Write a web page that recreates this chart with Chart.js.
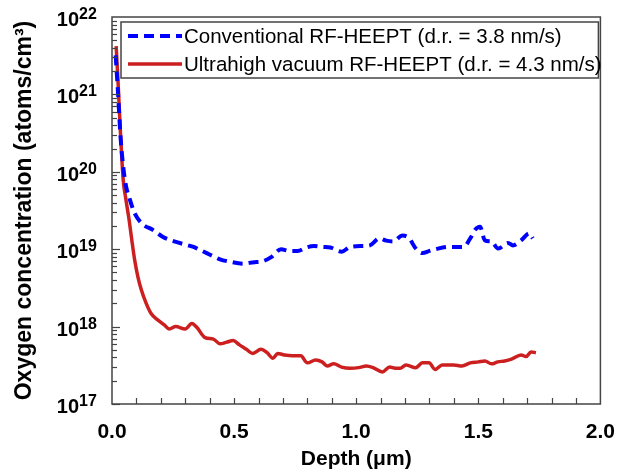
<!DOCTYPE html>
<html>
<head>
<meta charset="utf-8">
<script src="https://cdn.jsdelivr.net/npm/chart.js@4"></script>
<style>
  html, body { margin: 0; padding: 0; background: #fff; }
  #wrap { width: 631px; height: 474px; }
</style>
</head>
<body>
<div id="wrap"><canvas id="chart" width="631" height="474"></canvas></div>
<script>
// Depth (um) and oxygen concentration (atoms/cm3)
const convDepth = [0.015, 0.025, 0.035, 0.053, 0.073, 0.093, 0.126, 0.167, 0.207, 0.255, 0.308, 0.334, 0.360, 0.388, 0.415, 0.442, 0.482, 0.536, 0.583, 0.611, 0.652, 0.692, 0.727, 0.760, 0.795, 0.827, 0.860, 0.894, 0.941, 0.975, 1.029, 1.056, 1.096, 1.123, 1.150, 1.190, 1.217, 1.244, 1.271, 1.300, 1.325, 1.379, 1.440, 1.467, 1.487, 1.507, 1.527, 1.554, 1.581, 1.622, 1.642, 1.675, 1.709, 1.723];
const convConc = [3.2e21, 1.0e21, 2.8e20, 7.8e19, 4.4e19, 2.9e19, 2.1e19, 1.78e19, 1.45e19, 1.26e19, 1.13e19, 1.07e19, 9.8e18, 8.9e18, 8.1e18, 7.4e18, 6.9e18, 6.5e18, 6.8e18, 6.9e18, 7.9e18, 1.0e19, 9.5e18, 9.5e18, 1.05e19, 1.1e19, 1.07e19, 1.05e19, 9.3e18, 1.07e19, 1.1e19, 1.12e19, 1.38e19, 1.29e19, 1.26e19, 1.5e19, 1.38e19, 1.02e19, 8.9e18, 9.5e18, 1.0e19, 1.07e19, 1.07e19, 1.38e19, 1.78e19, 1.95e19, 1.3e19, 1.26e19, 1.02e19, 1.2e19, 1.12e19, 1.3e19, 1.6e19, 1.38e19];

const uhvDepth = [0.017, 0.025, 0.034, 0.046, 0.057, 0.070, 0.081, 0.093, 0.106, 0.120, 0.140, 0.160, 0.187, 0.214, 0.234, 0.261, 0.300, 0.327, 0.347, 0.381, 0.415, 0.442, 0.470, 0.496, 0.522, 0.550, 0.576, 0.610, 0.635, 0.659, 0.679, 0.706, 0.740, 0.773, 0.800, 0.834, 0.860, 0.881, 0.908, 0.940, 0.975, 1.010, 1.042, 1.069, 1.107, 1.137, 1.160, 1.180, 1.204, 1.244, 1.271, 1.298, 1.323, 1.352, 1.400, 1.433, 1.467, 1.500, 1.527, 1.554, 1.580, 1.608, 1.636, 1.675, 1.696, 1.716, 1.736];
const uhvConc = [4.2e21, 1.4e21, 3.5e20, 7.8e19, 4.4e19, 2.4e19, 1.32e19, 7.2e18, 4.4e18, 3.0e18, 2.0e18, 1.48e18, 1.22e18, 1.05e18, 9.3e17, 1.0e18, 9.3e17, 1.1e18, 9.8e17, 7.2e17, 6.9e17, 6.0e17, 6.3e17, 6.6e17, 5.8e17, 5.1e17, 4.5e17, 5.1e17, 4.6e17, 3.9e17, 4.5e17, 4.3e17, 4.2e17, 4.2e17, 3.4e17, 3.7e17, 3.5e17, 3.1e17, 3.3e17, 3.0e17, 2.9e17, 2.95e17, 3.1e17, 2.95e17, 2.6e17, 3.0e17, 2.9e17, 2.9e17, 3.2e17, 2.95e17, 3.4e17, 3.4e17, 2.8e17, 3.2e17, 3.2e17, 3.1e17, 3.4e17, 3.5e17, 3.6e17, 3.3e17, 3.5e17, 3.6e17, 3.8e17, 4.3e17, 4.1e17, 4.7e17, 4.6e17];

const xTicks = [0.0, 0.5, 1.0, 1.5, 2.0];
const yExponents = [17, 18, 19, 20, 21, 22];
const seriesLabels = [
    'Conventional RF-HEEPT (d.r. = 3.8 nm/s)',
    'Ultrahigh vacuum RF-HEEPT (d.r. = 4.3 nm/s)'
];

const FONT = 'Arial, "Liberation Sans", sans-serif';
const frameColor = '#444';

function toPoints(xs, ys) {
    return xs.map((x, i) => ({ x: x, y: ys[i] }));
}

// inward ticks, frame, y labels with superscripts, boxed legend
const decorPlugin = {
    id: 'decor',
    afterDatasetsDraw(chart) {
        const ctx = chart.ctx;
        const area = chart.chartArea;
        const xs = chart.scales.x;
        const ys = chart.scales.y;
        ctx.save();

        // x ticks every 0.1
        ctx.strokeStyle = frameColor;
        ctx.lineWidth = 1.2;
        for (let i = 1; i < 20; i++) {
            const px = Math.round(xs.getPixelForValue(i / 10)) + 0.5;
            ctx.beginPath();
            ctx.moveTo(px, area.bottom);
            ctx.lineTo(px, area.bottom - 6);
            ctx.stroke();
        }
        // y ticks, major and minor on log scale
        for (let e = 17; e < 22; e++) {
            for (let k = 1; k <= 9; k++) {
                const v = k * Math.pow(10, e);
                const py = Math.round(ys.getPixelForValue(v)) + 0.5;
                const len = k === 1 ? 8 : 5;
                ctx.beginPath();
                ctx.moveTo(area.left, py);
                ctx.lineTo(area.left + len, py);
                ctx.stroke();
            }
        }

        // frame
        ctx.lineWidth = 1.5;
        ctx.strokeRect(area.left, area.top, area.right - area.left, area.bottom - area.top);

        // y labels 10^n
        ctx.fillStyle = '#000';
        ctx.textBaseline = 'alphabetic';
        yExponents.forEach(n => {
            const py = ys.getPixelForValue(Math.pow(10, n));
            ctx.font = 'bold 20px ' + FONT;
            ctx.textAlign = 'right';
            ctx.fillText('10', 79, py + 9);
            ctx.font = 'bold 16px ' + FONT;
            ctx.textAlign = 'left';
            ctx.fillText(String(n), 79, py + 2);
        });

        // legend box
        const bx = area.left + 9, by = area.top + 5;
        const bw = area.right - 2 - bx, bh = 56;
        ctx.fillStyle = '#fff';
        ctx.fillRect(bx, by, bw, bh);
        ctx.strokeStyle = frameColor;
        ctx.lineWidth = 1.5;
        ctx.strokeRect(bx, by, bw, bh);
        chart.data.datasets.forEach((ds, i) => {
            const ly = by + 14 + i * 28;
            ctx.strokeStyle = ds.borderColor;
            ctx.lineWidth = ds.borderWidth;
            ctx.setLineDash(ds.borderDash || []);
            ctx.beginPath();
            ctx.moveTo(bx + 7, ly);
            ctx.lineTo(bx + 61, ly);
            ctx.stroke();
            ctx.setLineDash([]);
            ctx.fillStyle = '#000';
            ctx.font = '20.5px ' + FONT;
            ctx.textAlign = 'left';
            ctx.textBaseline = 'middle';
            ctx.fillText(ds.label, bx + 63, ly + 1);
        });
        ctx.restore();
    }
};

const ctx = document.getElementById('chart').getContext('2d');
new Chart(ctx, {
    type: 'line',
    data: {
        datasets: [{
            label: seriesLabels[0],
            data: toPoints(convDepth, convConc),
            borderColor: '#0000ff',
            borderWidth: 4,
            borderDash: [10, 6],
            pointRadius: 0,
            cubicInterpolationMode: 'monotone',
            fill: false
        }, {
            label: seriesLabels[1],
            data: toPoints(uhvDepth, uhvConc),
            borderColor: '#cc1f1f',
            borderWidth: 3.5,
            pointRadius: 0,
            cubicInterpolationMode: 'monotone',
            fill: false
        }]
    },
    options: {
        responsive: false,
        animation: false,
        layout: { padding: { top: 17, right: 24, bottom: 0, left: 0 } },
        plugins: {
            legend: { display: false },
            tooltip: { enabled: false }
        },
        scales: {
            x: {
                type: 'linear',
                min: 0,
                max: 2,
                afterBuildTicks: s => { s.ticks = xTicks.map(v => ({ value: v })); },
                afterFit: s => { s.height = 70; },
                grid: { display: false, drawTicks: false },
                border: { display: false },
                ticks: {
                    callback: v => v.toFixed(1),
                    color: '#000',
                    font: { family: FONT, size: 21, weight: 'bold' },
                    padding: 16,
                    maxRotation: 0
                },
                title: {
                    display: true,
                    text: 'Depth (\u03bcm)',
                    color: '#000',
                    font: { family: FONT, size: 21, weight: 'bold' },
                    padding: { top: 0, bottom: 2 }
                }
            },
            y: {
                type: 'logarithmic',
                min: 1e17,
                max: 1e22,
                afterFit: s => { s.width = 112; },
                grid: { display: false, drawTicks: false },
                border: { display: false },
                ticks: { display: false },
                title: {
                    display: true,
                    text: 'Oxygen concentration (atoms/cm\u00b3)',
                    color: '#000',
                    font: { family: FONT, size: 23, weight: 'bold' },
                    padding: { top: 11, bottom: 0 }
                }
            }
        }
    },
    plugins: [decorPlugin]
});
</script>
</body>
</html>
